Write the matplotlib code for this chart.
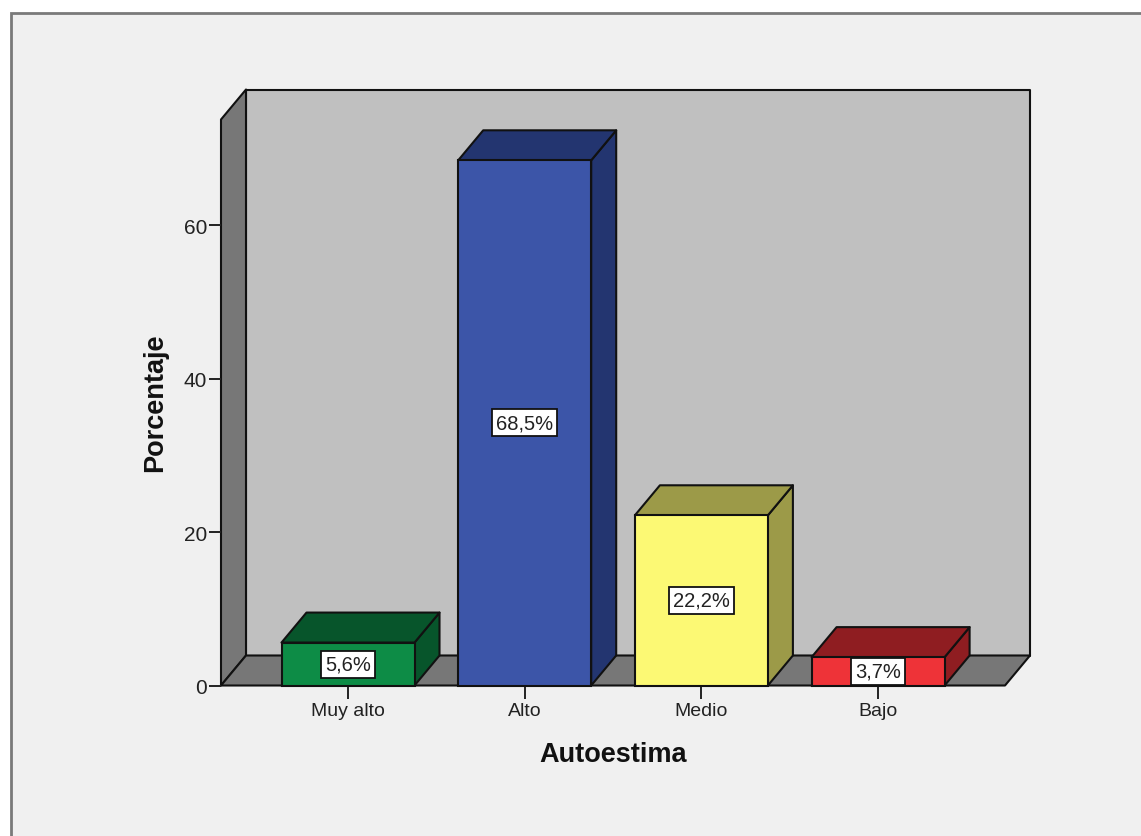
#!/usr/bin/env python3
"""
Bar chart of Autoestima percentages, SPSS style 3D bars
"""

import matplotlib
matplotlib.use('Agg')
import matplotlib.pyplot as plt
from matplotlib.patches import Polygon, Rectangle

categories = ['Muy alto', 'Alto', 'Medio', 'Bajo']
values = [5.6, 68.5, 22.2, 3.7]
labels = ['5,6%', '68,5%', '22,2%', '3,7%']
y_ticks = [0, 20, 40, 60]

front_colors = ['#0d8c46', '#3c55a8', '#fcf974', '#ee3338']
top_colors = ['#07552b', '#233570', '#9c9a48', '#8f1d21']
side_colors = ['#07552b', '#233570', '#9c9a48', '#8f1d21']

W, H = 1141, 837
plt.rcParams['font.family'] = ['Liberation Sans', 'DejaVu Sans']

fig = plt.figure(figsize=(W / 100, H / 100), dpi=100, facecolor='white')

# output window panel, white margin left and above
fig.add_artist(Rectangle((11 / W, -0.1), 1.1, 1.1 - 14 / H, transform=fig.transFigure,
                         facecolor='#f0f0f0', edgecolor='#7a7a7a', linewidth=2, zorder=-1))

ax = fig.add_axes([221 / W, 1 - 686.5 / H, (1005 - 221) / W, (686.5 - 120.5) / H])
px_x = 176.7
px_y = 7.667
ax.set_xlim((221 - 348) / px_x, (1005 - 348) / px_x)
ax.set_ylim(0, 566 / px_y)
ax.patch.set_visible(False)
for s in ax.spines.values():
    s.set_visible(False)

# depth of the 3D box in data units
dx = 25 / px_x
dy = 30 / px_y
x0, x1 = ax.get_xlim()
y0, y1 = ax.get_ylim()

def poly(pts, color, z):
    ax.add_patch(Polygon(pts, closed=True, facecolor=color, edgecolor='#111111', linewidth=1.5,
                         joinstyle='round', clip_on=False, zorder=z))

# back wall, left wall, floor
poly([(x0 + dx, y0 + dy), (x1 + dx, y0 + dy), (x1 + dx, y1 + dy), (x0 + dx, y1 + dy)], '#c0c0c0', 1)
poly([(x0, y0), (x0 + dx, y0 + dy), (x0 + dx, y1 + dy), (x0, y1)], '#777777', 1)
poly([(x0, y0), (x1, y0), (x1 + dx, y0 + dy), (x0 + dx, y0 + dy)], '#777777', 1)

bar_w = 133 / px_x
for i, v in enumerate(values):
    l = i - bar_w / 2
    r = i + bar_w / 2
    poly([(r, 0), (r + dx, dy), (r + dx, v + dy), (r, v)], side_colors[i], 3)
    poly([(l, v), (r, v), (r + dx, v + dy), (l + dx, v + dy)], top_colors[i], 3)
    ax.bar(i, v, width=bar_w, color=front_colors[i], edgecolor='#111111', linewidth=1.5, zorder=4, clip_on=False)
    ax.text(i, v / 2, labels[i], ha='center', va='center', fontsize=14.5, color='#222222', zorder=6,
            bbox=dict(boxstyle='square,pad=0.2', facecolor='white', edgecolor='#111111', linewidth=1.3))

ax.set_xticks(range(len(categories)))
ax.set_xticklabels(categories, color='#222222')
ax.set_yticks(y_ticks)
ax.set_yticklabels([str(t) for t in y_ticks], color='#222222')
ax.tick_params(axis='x', length=9, width=1.4, color='#222222', labelsize=14, pad=3)
ax.tick_params(axis='y', length=9, width=1.4, color='#222222', labelsize=15, pad=1)
ax.set_xlabel('Autoestima', fontsize=19.5, fontweight='bold', va='center', color='#111111')
ax.set_ylabel('Porcentaje', fontsize=19.5, fontweight='bold', va='center', color='#111111')
ax.xaxis.set_label_coords((613 - 221) / 784, -(755 - 686) / 566, transform=ax.transAxes)
ax.yaxis.set_label_coords((155 - 221) / 784, (686 - 402) / 566, transform=ax.transAxes)

fig.savefig('out.png', dpi=100, facecolor=fig.get_facecolor())
